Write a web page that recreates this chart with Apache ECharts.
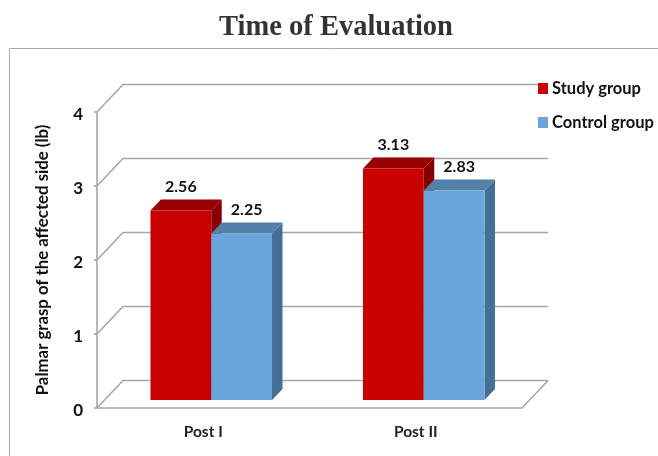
<!DOCTYPE html>
<html>
<head>
<meta charset="utf-8">
<title>Time of Evaluation</title>
<style>
    html, body { margin: 0; padding: 0; background: #fff; }
    #chart { width: 658px; height: 456px; }
</style>
</head>
<body>
<div id="chart"></div>
<script src="https://cdn.jsdelivr.net/npm/echarts@6/dist/echarts.min.js"></script>
<script>
const categories = ['Post I', 'Post II']
const studyGroup = [2.56, 3.13]
const controlGroup = [2.25, 2.83]
const tickValues = [0, 1, 2, 3, 4]

const font = 'Lato'
// 3d look: wall depth and how far the bars sit inside it
const wallDx = 26, wallDy = 27.5
const barShift = 8
const barDx = 10.5, barDy = 11

const chart = echarts.init(document.getElementById('chart'))

// grid lines that run up the side wall and along the back wall
function renderWall(params, api) {
    const box = params.coordSys
    const left = box.x, right = box.x + box.width
    const y = api.coord([0, api.value(1)])[1]
    const lineStyle = { stroke: '#a6a6a6', lineWidth: 1.6, fill: null }
    const children = [{
        type: 'polyline',
        shape: { points: [[left, y], [left + wallDx, y - wallDy], [right + wallDx, y - wallDy]] },
        style: lineStyle
    }]
    if (api.value(1) === 0) {
        // floor edge
        children.push({
            type: 'polyline',
            shape: { points: [[left, y], [right, y], [right + wallDx, y - wallDy]] },
            style: lineStyle
        })
    }
    return { type: 'group', children }
}

function barRenderer(offset, colors, labelDx) {
    return function (params, api) {
        const band = api.size([1, 0])[0]
        const w = band * 0.286
        const top = api.coord([api.value(0), api.value(1)])
        const base = api.coord([api.value(0), 0])
        const x = base[0] + barShift + offset * w
        const y0 = base[1] - barShift
        const y1 = top[1] - barShift
        return {
            type: 'group',
            children: [
                {
                    type: 'polygon',
                    shape: { points: [[x + w, y1], [x + w + barDx, y1 - barDy], [x + w + barDx, y0 - barDy], [x + w, y0]] },
                    style: { fill: colors.side }
                },
                {
                    type: 'polygon',
                    shape: { points: [[x, y1], [x + barDx, y1 - barDy], [x + w + barDx, y1 - barDy], [x + w, y1]] },
                    style: { fill: colors.top }
                },
                {
                    type: 'rect',
                    shape: { x: x, y: y1, width: w, height: y0 - y1 },
                    style: { fill: colors.front }
                },
                {
                    type: 'text',
                    style: {
                        text: api.value(1).toFixed(2),
                        x: x + w / 2 + labelDx,
                        y: y1 - 24,
                        textAlign: 'center',
                        textVerticalAlign: 'middle',
                        fontFamily: font,
                        fontWeight: 'bold',
                        fontSize: 16,
                        fill: '#111'
                    }
                }
            ]
        }
    }
}

const option = {
    animation: false,
    backgroundColor: '#fff',
    title: {
        text: 'Time of Evaluation',
        left: 331,
        top: 8,
        textAlign: 'center',
        textStyle: { fontFamily: 'Liberation Serif', fontWeight: 'bold', fontSize: 28.5, color: '#333' }
    },
    legend: {
        orient: 'vertical',
        left: 533,
        top: 75,
        itemWidth: 10,
        itemHeight: 11,
        itemGap: 17,
        icon: 'rect',
        data: ['Study group', 'Control group'],
        textStyle: { fontFamily: font, fontWeight: 'bold', fontSize: 16.5, color: '#111', padding: [0, 0, 0, -1] }
    },
    grid: { left: 97, right: 136, top: 112, bottom: 48 },
    xAxis: {
        type: 'category',
        data: categories,
        axisLine: { show: false },
        axisTick: { show: false },
        axisLabel: { fontFamily: font, fontWeight: 'bold', fontSize: 15.5, color: '#222', margin: 16 }
    },
    yAxis: {
        type: 'value',
        min: 0,
        max: 4,
        interval: 1,
        name: 'Palmar grasp of the affected side (lb)',
        nameLocation: 'middle',
        nameGap: 46,
        nameTextStyle: { fontFamily: font, fontWeight: 'bold', fontSize: 16.8, color: '#111' },
        axisLine: { show: true, lineStyle: { color: '#a6a6a6', width: 1.6 } },
        axisTick: { show: true, length: 3, lineStyle: { color: '#a6a6a6', width: 1.6 } },
        axisLabel: {
            margin: 14,
            formatter: '{tick|{value}}',
            rich: {
                // top padding pushes the digits down a little
                tick: { fontFamily: font, fontWeight: 'bold', fontSize: 17, color: '#111', padding: [5, 0, 0, 0] }
            }
        },
        splitLine: { show: false }
    },
    series: [
        {
            name: 'walls',
            type: 'custom',
            silent: true,
            clip: false,
            z: 1,
            encode: { x: 0, y: 1 },
            data: tickValues.map(v => [0, v]),
            renderItem: renderWall
        },
        {
            name: 'Study group',
            type: 'custom',
            clip: false,
            z: 2,
            itemStyle: { color: '#c80000' },
            encode: { x: 0, y: 1 },
            data: studyGroup.map((v, i) => [i, v]),
            renderItem: barRenderer(-1, { front: '#c80000', top: '#990000', side: '#850000' }, 0)
        },
        {
            name: 'Control group',
            type: 'custom',
            clip: false,
            z: 3,
            itemStyle: { color: '#6aa5db' },
            encode: { x: 0, y: 1 },
            data: controlGroup.map((v, i) => [i, v]),
            renderItem: barRenderer(0, { front: '#6aa5db', top: '#5180a8', side: '#446f96' }, 5)
        }
    ],
    graphic: [
        {
            // outer frame, runs off the right and bottom of the picture
            type: 'polyline',
            shape: { points: [[9.5, 456], [9.5, 48.5], [658, 48.5]] },
            style: { stroke: '#aaaaaa', lineWidth: 1, fill: null }
        }
    ]
}

chart.setOption(option)
</script>
</body>
</html>
